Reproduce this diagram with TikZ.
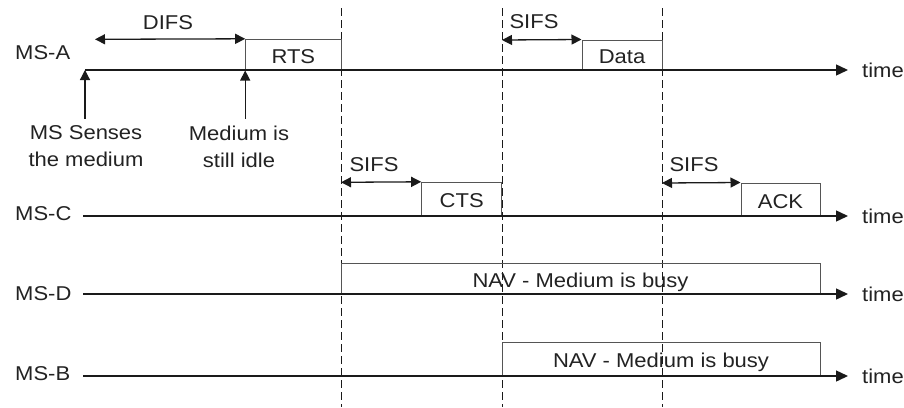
\documentclass[tikz,border=0pt]{standalone}
\usepackage{fontspec}
\usetikzlibrary{arrows.meta,calc}
\newfontfamily\diaglblfont{Liberation Sans}[FakeStretch=1.1]
\newcommand\diagfont{\diaglblfont\fontsize{20}{26.7}\selectfont}
\definecolor{ink}{HTML}{1A1A1A}
\definecolor{boxc}{HTML}{555555}
\definecolor{txtc}{HTML}{222222}
\tikzset{
  txt/.style={inner sep=0pt, font=\diagfont, text=txtc},
  tl/.style={line width=1.4pt, draw=ink, -{Triangle[length=12pt,width=11pt]}},
  pkt/.style={draw=boxc, line width=1pt, inner sep=0pt, font=\diagfont, text=txtc,
              text height=17pt, text depth=0pt},
  span/.style={line width=1.3pt, draw=ink, {Triangle[length=10pt,width=10pt]}-{Triangle[length=10pt,width=10pt]}},
  guide/.style={draw=ink, line width=0.9pt, dash pattern=on 8pt off 4pt},
  uparr/.style={line width=1.2pt, draw=ink, -{Triangle[length=10pt,width=10pt]}},
}
\begin{document}
\begin{tikzpicture}[x=1pt,y=-1pt]
\useasboundingbox (0,0) rectangle (904,407);

% dashed guides
\draw[guide] (341,8) -- (341,407);
\draw[guide] (502,8) -- (502,407);
\draw[guide] (662,8) -- (662,407);

% station labels
\node[txt, anchor=base west] (lA) at (15,59) {MS-A};
\node[txt, anchor=base west] (lC) at (15,220) {MS-C};
\node[txt, anchor=base west] (lD) at (15,300) {MS-D};
\node[txt, anchor=base west] (lB) at (15,380) {MS-B};

% timeline endpoints
\coordinate (a0) at (85,70);   \coordinate (a1) at (848,70);
\coordinate (c0) at (83,216);  \coordinate (c1) at (848,216);
\coordinate (d0) at (83,294);  \coordinate (d1) at (848,294);
\coordinate (b0) at (83,376);  \coordinate (b1) at (848,376);

% packets / NAV boxes
\node[pkt, minimum width=95.3pt, minimum height=30.7pt] (rts) at (293.35,54.65) {RTS};
\node[pkt, minimum width=80pt, minimum height=30pt] (data) at (622,55) {Data};
\node[pkt, minimum width=80pt, minimum height=33.7pt] (cts) at (461.7,199.15) {CTS};
\node[pkt, minimum width=79pt, minimum height=33pt] (ack) at (780.5,199.5) {ACK};
\node[pkt, minimum width=479pt, minimum height=30.7pt] (navd) at (580.5,278.65) {NAV - Medium is busy};
\node[pkt, minimum width=318pt, minimum height=33.3pt] (navb) at (661,359.35) {NAV - Medium is busy};

% timelines
\draw[tl] (a0) -- (a1);
\draw[tl] (c0) -- (c1);
\draw[tl] (d0) -- (d1);
\draw[tl] (b0) -- (b1);
\node[txt, anchor=west] (tA) at ($(a1)+(14,0)$) {time};
\node[txt, anchor=west] (tC) at ($(c1)+(14,0)$) {time};
\node[txt, anchor=west] (tD) at ($(d1)+(14,0)$) {time};
\node[txt, anchor=west] (tB) at ($(b1)+(14,0)$) {time};

% interframe spaces
\coordinate (difs0) at (95,39.3);
\coordinate (sifsA0) at (502,40);
\coordinate (sifsC0) at (341,182.3);
\coordinate (sifsC2) at (662,183);
\draw[span] (difs0) -- (rts.north west);
\draw[span] (sifsA0) -- (data.north west);
\draw[span] (sifsC0) -- (cts.north west);
\draw[span] (sifsC2) -- (ack.north west);
\node[txt, anchor=base] (difs) at (168,29.7) {DIFS};
\node[txt, anchor=base] (sifsa) at (534,28.5) {SIFS};
\node[txt, anchor=base] (sifsc) at (374,171.7) {SIFS};
\node[txt, anchor=base] (sifsk) at (694,171.7) {SIFS};

% event annotations
\node[txt, align=center, anchor=north] (sense) at (86,125.7) {MS Senses\\the medium};
\node[txt, align=center, anchor=north] (idle) at (239,125.7) {Medium is\\still idle};
\draw[uparr] ($(sense.north -| a0)+(0,-7)$) -- (a0);
\draw[uparr] ($(idle.north -| rts.south west)+(0,-7)$) -- (rts.south west);
\end{tikzpicture}
\end{document}
